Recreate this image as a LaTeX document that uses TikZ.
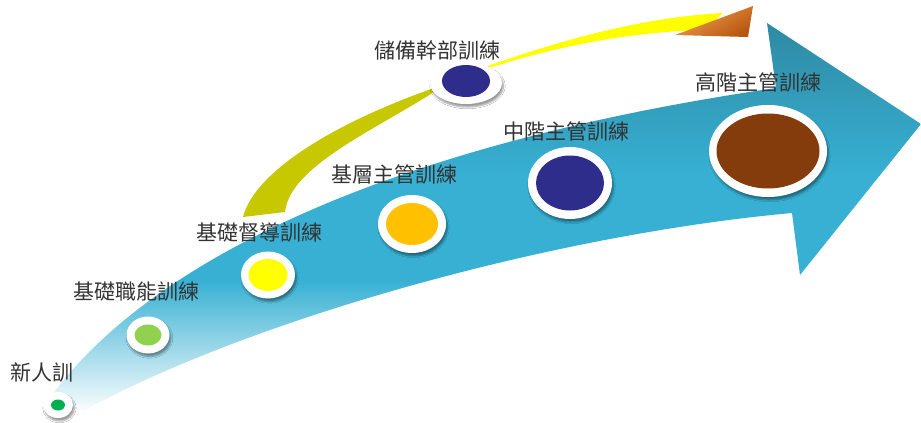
\documentclass[tikz,border=0pt]{standalone}
\usepackage{fontspec}
\newfontfamily\cjkfont{Noto Sans CJK TC}
\usetikzlibrary{shapes.geometric, shadows.blur}

\definecolor{arrowblue}{RGB}{55,176,211}
\definecolor{arrowdark}{RGB}{46,137,162}
\definecolor{shaftolive}{RGB}{200,200,0}
\definecolor{shaftyellow}{RGB}{255,255,0}
\definecolor{headlight}{RGB}{242,162,85}
\definecolor{headdark}{RGB}{184,87,15}
\definecolor{dotgreen}{RGB}{0,176,80}
\definecolor{dotlime}{RGB}{146,208,80}
\definecolor{dotyellow}{RGB}{255,255,0}
\definecolor{dotamber}{RGB}{255,192,0}
\definecolor{dotnavy}{RGB}{46,45,140}
\definecolor{dotbrown}{RGB}{132,60,12}

\begin{document}
\begin{tikzpicture}[x=1pt, y=-1pt]
    \tikzset{
        ring/.style={
                ellipse, fill=white, inner sep=0pt,
                blur shadow={shadow xshift=1.5pt, shadow yshift=-3pt, shadow opacity=40, shadow blur steps=6}
            },
        dot/.style={ellipse, inner sep=0pt},
        stage label/.style={
                font=\cjkfont\fontsize{21}{21}\selectfont, text=black!80, inner sep=0pt
            }
    }

    \useasboundingbox (0,0) rectangle (921,423);
    \fill[white] (0,0) rectangle (921,423);

    % --- Nebenpfeil (Abkuerzung ueber Reserve-Kader) ---
    \fill[shaftolive] (243,217) .. controls (255,170) and (340,120) .. (440,86)
        -- (440,88) .. controls (380,128) and (290,165) .. (285,212) -- cycle;
    \fill[shaftyellow] (465,74) .. controls (540,47) and (630,18) .. (723,13)
        -- (705,30) .. controls (620,32) and (540,50) .. (465,76) -- cycle;
    \shade[top color=headlight, bottom color=headdark, shading angle=30]
        (675,35) -- (753,6) -- (748,37) -- cycle;

    % --- Hauptpfeil ---
    \begin{scope}
        \clip (45,405) .. controls (130,280) and (350,150) .. (776,88) -- (767,23) -- (921,124)
            -- (800,275) -- (792,213) .. controls (550,235) and (250,320) .. (85,410) -- cycle;
        \shade[top color=arrowdark, bottom color=arrowblue] (0,20) rectangle (921,175);
        \fill[arrowblue] (0,175) rectangle (921,280);
        \shade[top color=arrowblue, bottom color=white] (0,280) rectangle (921,415);
        \fill[white] (0,415) rectangle (921,423);
    \end{scope}

    % --- Stationen ---
    \node[ring, minimum width=30pt, minimum height=26pt] (newhire) at (58,405) {};
    \node[dot, fill=dotgreen, minimum width=14pt, minimum height=11pt] (newhire-in) at (newhire.center) {};

    \node[ring, minimum width=43pt, minimum height=37pt] (basicskill) at (148,335) {};
    \node[dot, fill=dotlime, minimum width=27pt, minimum height=21pt] (basicskill-in) at (basicskill.center) {};

    \node[ring, minimum width=54pt, minimum height=47pt] (basicsuper) at (268,275) {};
    \node[dot, fill=dotyellow, minimum width=39pt, minimum height=32pt] (basicsuper-in) at (basicsuper.center) {};

    \node[ring, minimum width=68pt, minimum height=58pt] (firstline) at (412,224) {};
    \node[dot, fill=dotamber, minimum width=52pt, minimum height=42pt] (firstline-in) at (firstline.center) {};

    \node[ring, minimum width=84pt, minimum height=72pt] (midlevel) at (570,183) {};
    \node[dot, fill=dotnavy, minimum width=68pt, minimum height=55pt] (midlevel-in) at (midlevel.center) {};

    \node[ring, minimum width=118pt, minimum height=92pt] (senior) at (768,151) {};
    \node[dot, fill=dotbrown, minimum width=103pt, minimum height=75pt] (senior-in) at (senior.center) {};

    \node[ring, minimum width=72pt, minimum height=42pt] (reserve) at (466,83) {};
    \node[dot, fill=dotnavy, minimum width=48pt, minimum height=32pt] (reserve-in) at (466,81) {};

    % --- Beschriftungen ---
    \node[stage label] (newhire-lbl) at (42,373) {新人訓};
    \node[stage label] (basicskill-lbl) at (136,292) {基礎職能訓練};
    \node[stage label] (basicsuper-lbl) at (259,233) {基礎督導訓練};
    \node[stage label] (firstline-lbl) at (394,174) {基層主管訓練};
    \node[stage label] (midlevel-lbl) at (566,131) {中階主管訓練};
    \node[stage label] (senior-lbl) at (758,82) {高階主管訓練};
    \node[stage label] (reserve-lbl) at (437,50) {儲備幹部訓練};
\end{tikzpicture}
\end{document}
